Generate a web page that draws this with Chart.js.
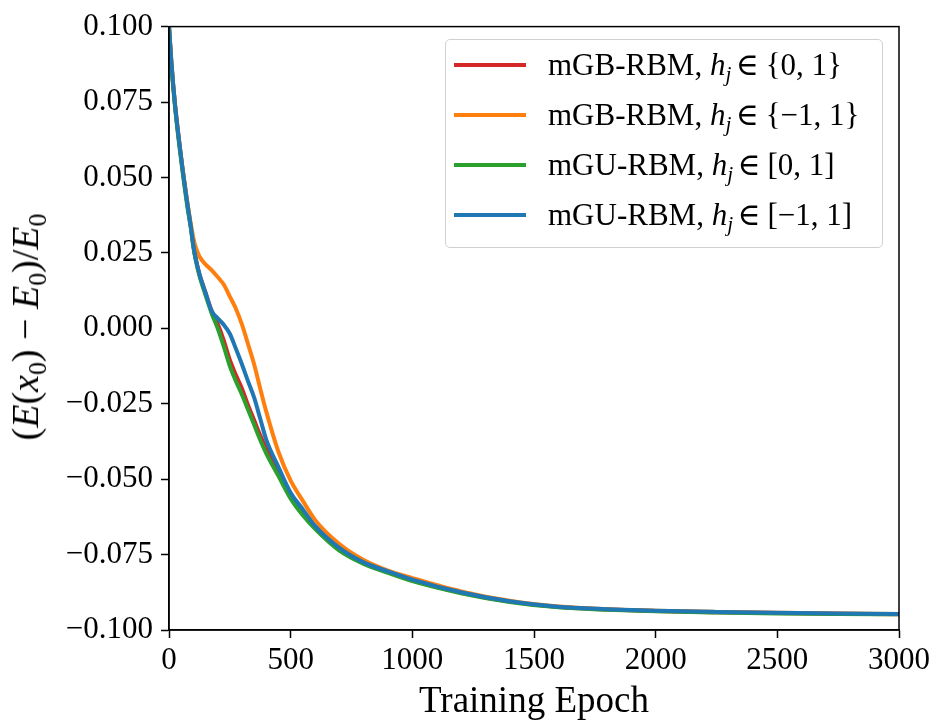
<!DOCTYPE html>
<html>
<head>
<meta charset="utf-8">
<script src="https://cdn.jsdelivr.net/npm/chart.js@4.4.0/dist/chart.umd.min.js"></script>
<style>
  body { margin: 0; background: #fff; }
  #wrap { position: relative; width: 937px; height: 725px; font-family: "Liberation Serif", "DejaVu Serif", serif; color: #000; }
  canvas { position: absolute; left: 0; top: 0; }
  #ylabel { position: absolute; left: 25px; top: 327px; transform: translate(-50%, -50%) rotate(-90deg); white-space: nowrap; font-size: 38px; line-height: 38px; }
  #ylabel .op { margin: 0 0.25em; }
  #xlabel { position: absolute; left: 169px; width: 730px; top: 681px; text-align: center; font-size: 37px; line-height: 37px; }
  #legend { position: absolute; left: 445px; top: 39px; width: 438px; height: 209px; box-sizing: border-box; border: 1px solid #d0d0d0; border-radius: 5px; background: rgba(255,255,255,0.85); }
  .row { position: relative; height: 50px; font-size: 31px; line-height: 50px; white-space: nowrap; }
  .row .swatch { position: absolute; left: 8px; top: 23px; width: 72px; height: 4px; }
  .row .label { position: absolute; left: 102px; top: 0; }
  .row .rel { margin: 0 0.22em 0 0.15em; }
  i { font-style: italic; }
  sub { font-size: 0.68em; vertical-align: -0.3em; line-height: 0; }
</style>
</head>
<body>
<div id="wrap">
  <canvas id="chart" width="937" height="725"></canvas>
  <div id="ylabel">(<i>E</i>(<i>x</i><sub>0</sub>)<span class="op">−</span><i>E</i><sub>0</sub>)/<i>E</i><sub>0</sub></div>
  <div id="xlabel">Training Epoch</div>
  <div id="legend"></div>
</div>
<script>
// epochs at which the curves are sampled
const epochs = [0, 10, 25, 50, 75, 90, 100, 110, 125, 150, 175, 200, 225, 250, 275, 300, 325, 350, 375, 400,
  450, 500, 550, 600, 700, 800, 900, 1000, 1200, 1400, 1600, 1800, 2000, 2250, 2500, 2750, 3000];

// relative energy error (E(x0) - E0) / E0 per model
const mgbBinary = [0.100, 0.088, 0.074, 0.0565, 0.0415, 0.0335, 0.0275, 0.0230, 0.0180, 0.0118, 0.0058,
  0.0015, -0.004, -0.0105, -0.0155, -0.0200, -0.0255, -0.0305, -0.0355, -0.0400, -0.0480, -0.0555, -0.0608,
  -0.0657, -0.0730, -0.0778, -0.0808, -0.0835, -0.0876, -0.0906, -0.0924, -0.0932, -0.0937, -0.0941, -0.0944,
  -0.0946, -0.0948];
const mgbSpin = [0.100, 0.088, 0.074, 0.0565, 0.042, 0.0345, 0.0300, 0.0268, 0.0238, 0.0212, 0.0193,
  0.0170, 0.0145, 0.0105, 0.0065, 0.0012, -0.0053, -0.0120, -0.0200, -0.0277, -0.0410, -0.0505, -0.0572,
  -0.0635, -0.0715, -0.0768, -0.0803, -0.0828, -0.0872, -0.0903, -0.0922, -0.0931, -0.0936, -0.0940, -0.0943,
  -0.0945, -0.0947];
const mguUnit = [0.100, 0.087, 0.073, 0.0555, 0.0405, 0.0330, 0.0270, 0.0225, 0.0174, 0.011, 0.005,
  0.000, -0.006, -0.0125, -0.0175, -0.0220, -0.0270, -0.0320, -0.0370, -0.0415, -0.0490, -0.0565, -0.0620,
  -0.0665, -0.0737, -0.0781, -0.0811, -0.0838, -0.0878, -0.0907, -0.0925, -0.0933, -0.0938, -0.0942, -0.0945,
  -0.0947, -0.0948];
const mguSym = [0.100, 0.088, 0.074, 0.0565, 0.0415, 0.0335, 0.0275, 0.0230, 0.0180, 0.0118, 0.0058,
  0.0033, 0.0012, -0.0018, -0.0068, -0.0120, -0.0176, -0.0230, -0.0300, -0.0370, -0.0460, -0.0545, -0.0600,
  -0.0655, -0.0728, -0.0776, -0.0806, -0.0833, -0.0875, -0.0905, -0.0923, -0.0931, -0.0936, -0.0940, -0.0943,
  -0.0945, -0.0947];

const yTicks = [0.100, 0.075, 0.050, 0.025, 0.000, -0.025, -0.050, -0.075, -0.100];
const xTicks = [0, 500, 1000, 1500, 2000, 2500, 3000];

const hj = '<i>h</i><sub><i>j</i></sub><span class="rel">∈</span>';
const series = [
  { name: 'mGB-RBM, ' + hj + '{0, 1}', values: mgbBinary, color: '#d62728', order: 4 },
  { name: 'mGB-RBM, ' + hj + '{−1, 1}', values: mgbSpin, color: '#ff7f0e', order: 3 },
  { name: 'mGU-RBM, ' + hj + '[0, 1]', values: mguUnit, color: '#2ca02c', order: 2 },
  { name: 'mGU-RBM, ' + hj + '[−1, 1]', values: mguSym, color: '#1f77b4', order: 1 },
];

// legend box with the math labels
const legendEl = document.getElementById('legend');
series.forEach(s => {
  const row = document.createElement('div');
  row.className = 'row';
  row.innerHTML = `<span class="swatch" style="background:${s.color}"></span><span class="label">${s.name}</span>`;
  legendEl.appendChild(row);
});

const AREA = { left: 169, right: 899, top: 25, bottom: 630 };
const tickFont = { family: '"Liberation Serif", serif', size: 31 };

// full black frame around the plot area
const frame = {
  id: 'frame',
  afterDraw(chart) {
    const { ctx, chartArea: a } = chart;
    ctx.save();
    ctx.strokeStyle = '#000';
    ctx.lineWidth = 1.5;
    ctx.strokeRect(a.left, a.top, a.right - a.left, a.bottom - a.top);
    ctx.restore();
  }
};

new Chart(document.getElementById('chart'), {
  type: 'line',
  data: {
    datasets: series.map(s => ({
      label: s.name,
      data: epochs.map((e, i) => ({ x: e, y: s.values[i] })),
      borderColor: s.color,
      backgroundColor: s.color,
      borderWidth: 4,
      pointRadius: 0,
      cubicInterpolationMode: 'monotone',
      order: s.order,
    })),
  },
  options: {
    responsive: false,
    animation: false,
    layout: { padding: { top: AREA.top, right: 937 - AREA.right, left: 0, bottom: 0 } },
    plugins: { legend: { display: false }, tooltip: { enabled: false } },
    scales: {
      x: {
        type: 'linear',
        min: 0,
        max: 3000,
        afterFit(scale) { scale.height = 725 - AREA.bottom; },
        afterBuildTicks(scale) { scale.ticks = xTicks.map(v => ({ value: v })); },
        ticks: { font: tickFont, color: '#000', padding: 4, maxRotation: 0, callback: v => String(v) },
        grid: { display: true, drawOnChartArea: false, tickLength: 8, tickWidth: 1.5, tickColor: '#000' },
        border: { display: true, color: '#000', width: 1.5 },
      },
      y: {
        min: -0.1,
        max: 0.1,
        afterFit(scale) { scale.width = AREA.left; },
        afterBuildTicks(scale) { scale.ticks = yTicks.map(v => ({ value: v })); },
        ticks: {
          font: tickFont, color: '#000', padding: 8,
          callback: v => (v < 0 ? '−' : '') + Math.abs(v).toFixed(3),
        },
        grid: { display: true, drawOnChartArea: false, tickLength: 8, tickWidth: 1.5, tickColor: '#000' },
        border: { display: true, color: '#000', width: 1.5 },
      },
    },
  },
  plugins: [frame],
});
</script>
</body>
</html>
